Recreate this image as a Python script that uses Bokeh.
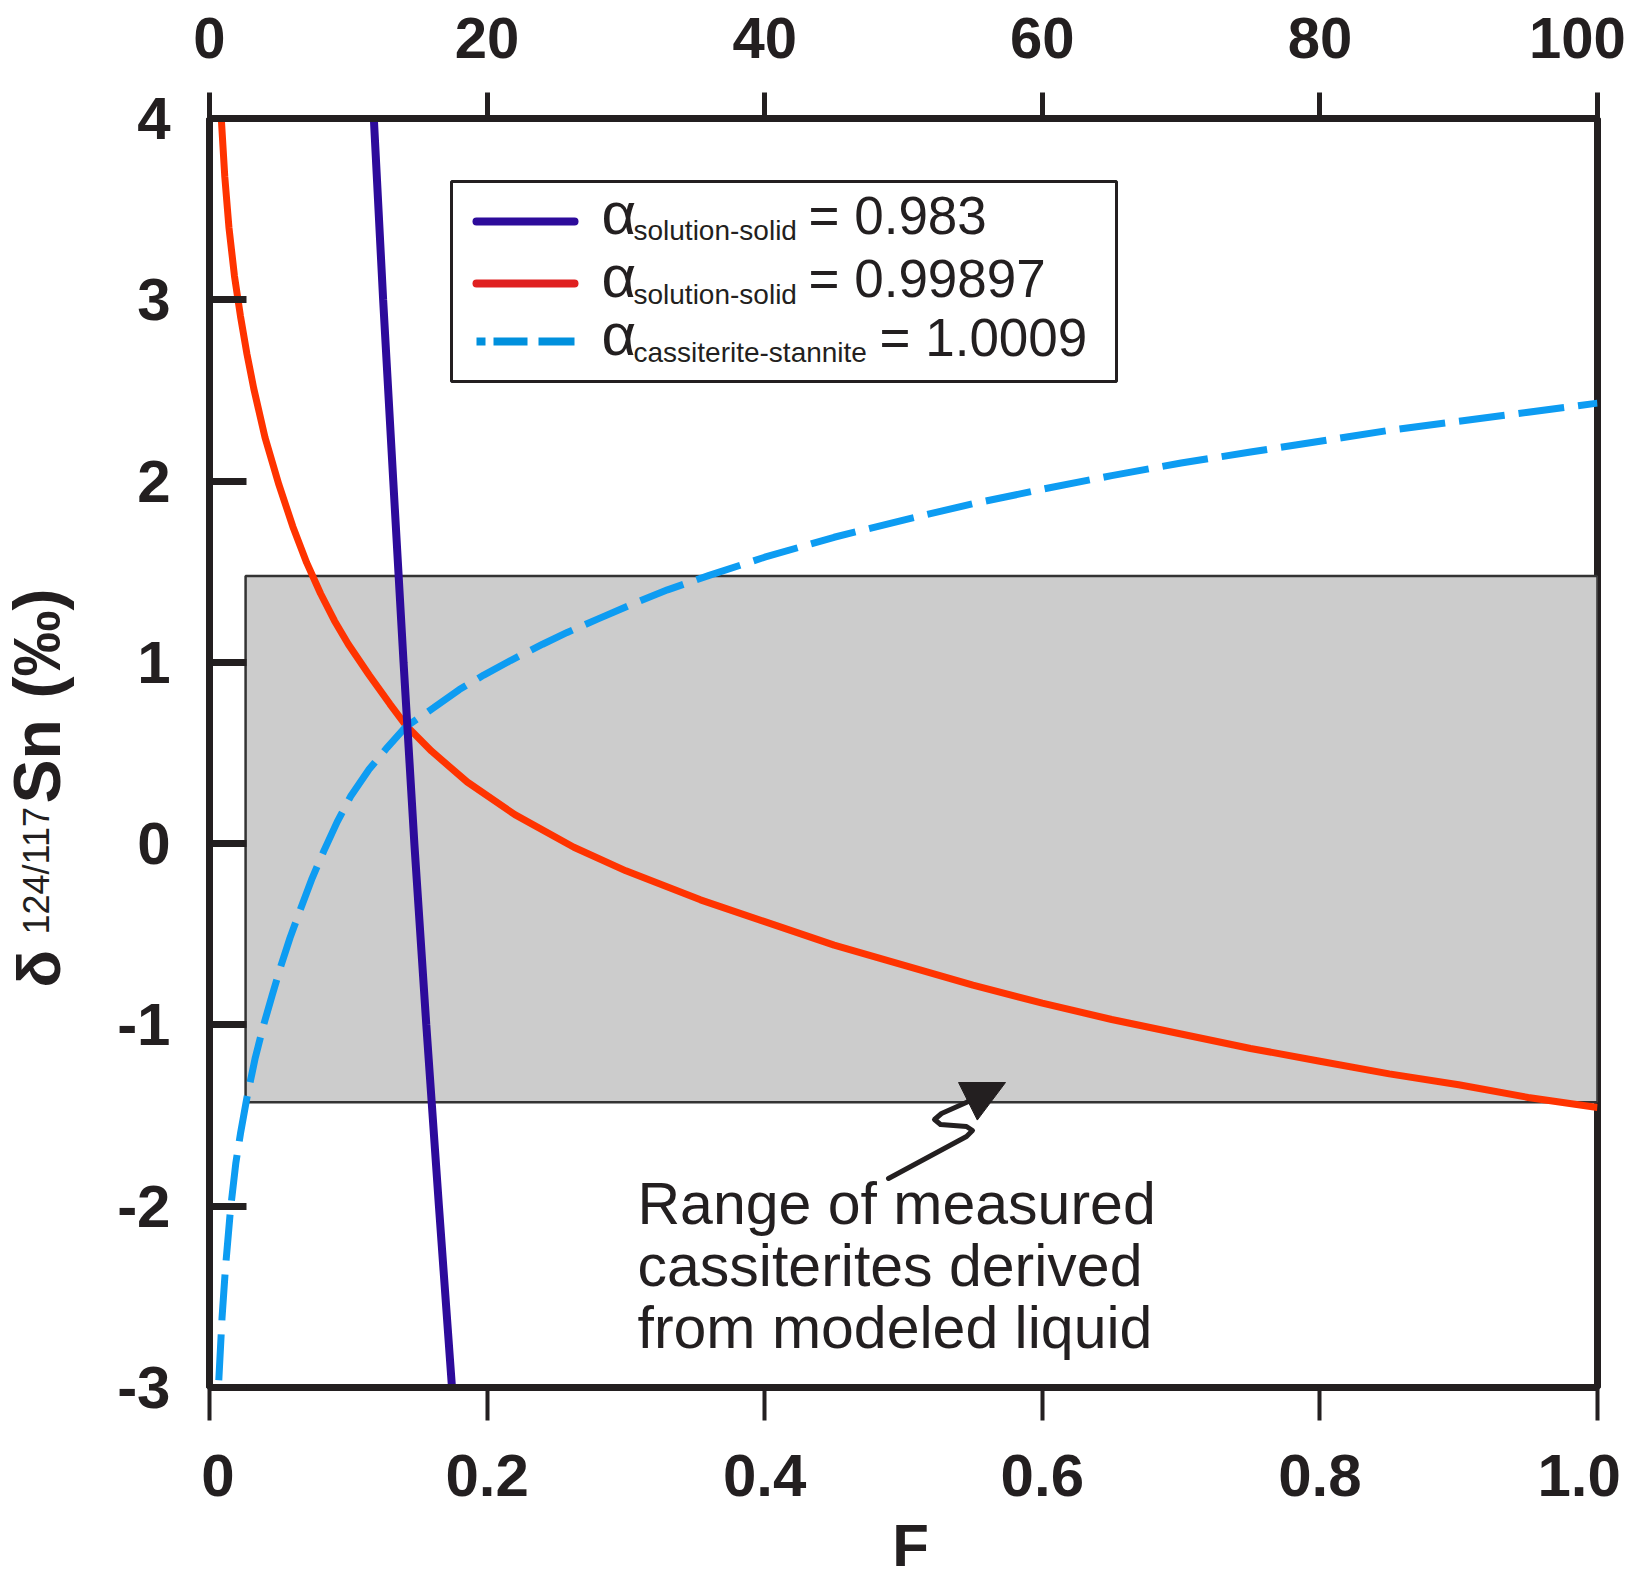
from math import pi
from bokeh.plotting import figure
from bokeh.layouts import row, column
from bokeh.models import (Range1d, LinearAxis, FixedTicker, Label, BoxAnnotation,
                          Arrow, NormalHead)
from bokeh.embed import file_html
from bokeh.resources import INLINE

# ---------------- data ----------------
# Rayleigh curve, alpha(solution-solid) = 0.983
F_SOLID_0983 = [0.1184, 0.1251, 0.1324, 0.1398, 0.1476, 0.1562, 0.1653, 0.1747]
DELTA_SOLID_0983 = [4.0, 3.0, 2.0, 1.0, 0.0, -1.0, -2.0, -3.0]

# Rayleigh curve, alpha(solution-solid) = 0.99897
F_SOLID_099897 = [0.0085, 0.0110, 0.0140, 0.0180, 0.0223, 0.0270, 0.0319, 0.0400,
                  0.0500, 0.0600, 0.0700, 0.0800, 0.0900, 0.1000, 0.1150, 0.1300,
                  0.1412, 0.1600, 0.1857, 0.2200, 0.2625, 0.3000, 0.3537, 0.4000,
                  0.4500, 0.5000, 0.5500, 0.6000, 0.6500, 0.7000, 0.7500, 0.8000,
                  0.8500, 0.9000, 0.9500, 1.0000]
DELTA_SOLID_099897 = [4.00, 3.68, 3.40, 3.13, 2.91, 2.70, 2.51, 2.24,
                      1.98, 1.75, 1.55, 1.38, 1.23, 1.10, 0.93, 0.77,
                      0.655, 0.51, 0.34, 0.16, -0.02, -0.15, -0.31, -0.43,
                      -0.56, -0.67, -0.78, -0.88, -0.97, -1.05, -1.13, -1.20,
                      -1.27, -1.33, -1.40, -1.455]

# alpha(cassiterite-stannite) = 1.0009
F_CASS_STAN = [0.0067, 0.0090, 0.0115, 0.0151, 0.0190, 0.0223, 0.0270, 0.0330,
               0.0390, 0.0450, 0.0512, 0.0580, 0.0656, 0.0740, 0.0824, 0.0920,
               0.1016, 0.1150, 0.1280, 0.1412, 0.1616, 0.1800, 0.1976, 0.2169,
               0.2400, 0.2577, 0.2800, 0.3057, 0.3300, 0.3600, 0.4000, 0.4500,
               0.5000, 0.5500, 0.6000, 0.6500, 0.7000, 0.7500, 0.8000, 0.8500,
               0.9000, 0.9500, 1.0000]
DELTA_CASS_STAN = [-2.96, -2.62, -2.34, -2.02, -1.76, -1.60, -1.40, -1.18,
                   -1.00, -0.84, -0.68, -0.52, -0.36, -0.19, -0.04, 0.12,
                   0.26, 0.41, 0.53, 0.643, 0.75, 0.85, 0.93, 1.01,
                   1.10, 1.165, 1.24, 1.325, 1.40, 1.48, 1.58, 1.69,
                   1.785, 1.875, 1.955, 2.03, 2.10, 2.16, 2.22, 2.28,
                   2.33, 2.38, 2.43]

# range of measured cassiterites (grey band)
MEASURED_F = [0.026, 1.0]
MEASURED_DELTA = [-1.426, 1.477]

X_TICKS = [0, 0.2, 0.4, 0.6, 0.8, 1.0]
X_TICK_LABELS = ["0", "0.2", "0.4", "0.6", "0.8", "1.0"]
TOP_TICKS = [0, 20, 40, 60, 80, 100]
TOP_TICK_LABELS = ["0", "20", "40", "60", "80", "100"]
Y_TICKS = [-3, -2, -1, 0, 1, 2, 3, 4]
Y_TICK_LABELS = ["-3", "-2", "-1", "0", "1", "2", "3", "4"]

LEGEND_SUBSCRIPTS = ["solution-solid", "solution-solid", "cassiterite-stannite"]
LEGEND_VALUES = ["= 0.983", "= 0.99897", "= 1.0009"]
ANNOTATION_LINES = ["Range of measured", "cassiterites derived", "from modeled liquid"]
X_TITLE = "F"

# ---------------- layout / style ----------------
W, H = 1637, 1583
LW = 80            # left strip holding the rotated y title
MAIN_H = 1512      # main figure height; strip below holds "F"
FL, FR, FT, FB = 209, 1597, 118, 1387   # frame in page pixels
XMIN, XMAX, YMIN, YMAX = 0.0, 1.0, -3.0, 4.0
FONT = "Liberation Sans"
INK = "#231f20"
C_PURPLE = "#2d0b9b"
C_RED = "#ff3300"
C_BLUE = "#0d9cf2"
NB = "\u00a0"
THIN = "\u2009"
BASE_SHIFT = 0.4   # rendered alphabetic baseline sits ~0.4 em below anchor
F_STRIP_SHIFT = 40  # observed horizontal offset of the bottom strip's content


def dx(px):
    return XMIN + (px - FL) / (FR - FL) * (XMAX - XMIN)


def dy(py):
    return YMAX - (py - FT) / (FB - FT) * (YMAX - YMIN)


def clean(fig):
    fig.background_fill_color = "white"
    fig.border_fill_color = "white"
    fig.xgrid.grid_line_color = None
    fig.ygrid.grid_line_color = None


p = figure(width=W - LW, height=MAIN_H, x_range=Range1d(XMIN, XMAX),
           y_range=Range1d(YMIN, YMAX), output_backend="svg", toolbar_location=None,
           x_axis_location=None, y_axis_location=None,
           min_border_left=FL - LW, min_border_right=W - FR,
           min_border_top=FT, min_border_bottom=MAIN_H - FB)
clean(p)
p.outline_line_color = INK
p.outline_line_width = 7
p.extra_x_ranges = {"top": Range1d(0, 100)}


def style_axis(ax, lw, tw, size="60px"):
    ax.axis_line_color = INK
    ax.axis_line_width = lw
    ax.major_tick_line_color = INK
    ax.major_tick_line_width = tw
    ax.minor_tick_line_color = None
    ax.major_label_text_font = FONT
    ax.major_label_text_font_style = "bold"
    ax.major_label_text_font_size = size
    ax.major_label_text_color = INK


x_labels = list(X_TICK_LABELS)
x_labels[0] = NB + x_labels[0]
x_labels[-1] = x_labels[-1] + NB
xb = LinearAxis(ticker=FixedTicker(ticks=X_TICKS),
                major_label_overrides=dict(zip(X_TICKS, x_labels)))
style_axis(xb, 7, 4)
xb.major_tick_out = 33
xb.major_tick_in = 0
xb.major_label_standoff = 21
p.add_layout(xb, "below")

top_labels = list(TOP_TICK_LABELS)
top_labels[-1] = top_labels[-1] + THIN
xt = LinearAxis(x_range_name="top", ticker=FixedTicker(ticks=TOP_TICKS),
                major_label_overrides=dict(zip(TOP_TICKS, top_labels)))
style_axis(xt, 7, 5, "58px")
xt.major_tick_out = 26
xt.major_tick_in = 0
xt.major_label_standoff = 23
p.add_layout(xt, "above")

yl = LinearAxis(ticker=FixedTicker(ticks=Y_TICKS),
                major_label_overrides=dict(zip(Y_TICKS, Y_TICK_LABELS)))
style_axis(yl, 7, 7)
yl.major_tick_out = 0
yl.major_tick_in = 37
yl.major_label_standoff = 39
p.add_layout(yl, "left")

# grey band
p.quad(left=[MEASURED_F[0]], right=[MEASURED_F[1]],
       bottom=[MEASURED_DELTA[0]], top=[MEASURED_DELTA[1]],
       fill_color="#cccccc", line_color="#333333", line_width=2.5)

# curves
p.line(F_SOLID_099897, DELTA_SOLID_099897, line_color=C_RED, line_width=7)
p.line(F_CASS_STAN, DELTA_CASS_STAN, line_color=C_BLUE, line_width=7,
       line_dash="46 14")
p.line(F_SOLID_0983, DELTA_SOLID_0983, line_color=C_PURPLE, line_width=8)


def text_label(x, y_base_px, txt, size, yconv, style="normal"):
    """left-aligned label whose baseline lands on y_base_px (page pixels)"""
    return Label(x=x, y=yconv(y_base_px - BASE_SHIFT * size), text=txt,
                 text_font=FONT, text_font_size=f"{size}px", text_color=INK,
                 text_font_style=style, text_align="left",
                 text_baseline="alphabetic")


# legend box
p.add_layout(BoxAnnotation(left=dx(451), right=dx(1116), top=dy(181), bottom=dy(381),
                           fill_color="white", fill_alpha=1.0,
                           line_color=INK, line_width=3, line_alpha=1.0))
swatches = [(C_PURPLE, 221, None), ("#e02020", 283, None),
            ("#0090dd", 341, "9 8 34 11 38 20")]
for color, ypx, dash in swatches:
    kw = dict(x_start=dx(476), y_start=dy(ypx), x_end=dx(574), y_end=dy(ypx),
              start=None, end=None, line_color=color, line_width=8, line_cap="round")
    if dash:
        kw["line_dash"] = dash
        kw["line_cap"] = "butt"
    p.add_layout(Arrow(**kw))

rows = [(237, 241, 236, 808), (300, 305, 299, 808), (358, 363, 358, 879)]
for (a_base, sub_base, v_base, xeq), sub, val in zip(rows, LEGEND_SUBSCRIPTS, LEGEND_VALUES):
    p.add_layout(text_label(dx(601), a_base, "α", 60, dy))
    p.add_layout(text_label(dx(633), sub_base, sub, 28, dy))
    p.add_layout(text_label(dx(xeq), v_base, val, 53, dy))

# annotation text
for i, line in enumerate(ANNOTATION_LINES):
    p.add_layout(text_label(dx(637), 1227 + i * 62, line, 59, dy))

# squiggly arrow pointing to the band
sq_px = [(888, 1178), (966, 1136), (972, 1130), (966, 1126), (940, 1124),
         (934, 1119), (941, 1113), (968, 1101)]
p.line([dx(a) for a, b in sq_px], [dy(b) for a, b in sq_px], line_color=INK,
       line_width=5, line_join="round", line_cap="round")
p.add_layout(Arrow(x_start=dx(967), y_start=dy(1101), x_end=dx(1005), y_end=dy(1082),
                   start=None, end=NormalHead(size=42, fill_color=INK, line_color=INK),
                   line_color=INK, line_width=5))

# ---------------- left strip: rotated y title (full page height) ----------------
ylab_fig = figure(width=LW, height=H, x_range=Range1d(0, LW), y_range=Range1d(0, H),
                  output_backend="svg", toolbar_location=None,
                  x_axis_location=None, y_axis_location=None, min_border=0)
clean(ylab_fig)
ylab_fig.outline_line_color = None

# (text, baseline x, start y (bottom end), size, weight) in page pixels
ylab = [("δ", 63, 987, 62, "bold"),
        ("124/117", 50, 934, 36, "normal"),
        ("Sn", 63, 803, 66, "bold"),
        ("(‰)", 63, 698, 66, "bold")]
for txt, bx, by, fs, st in ylab:
    ylab_fig.add_layout(Label(x=bx - BASE_SHIFT * fs, y=H - by, text=txt,
                              angle=pi / 2, text_font=FONT, text_font_size=f"{fs}px",
                              text_font_style=st, text_color=INK,
                              text_align="left", text_baseline="alphabetic"))

# ---------------- bottom strip: x title ----------------
f_fig = figure(width=W - LW, height=H - MAIN_H, x_range=Range1d(LW, W),
               y_range=Range1d(0, H - MAIN_H), output_backend="svg",
               toolbar_location=None, x_axis_location=None, y_axis_location=None,
               min_border=0)
clean(f_fig)
f_fig.outline_line_color = None
f_fig.add_layout(text_label(886 - F_STRIP_SHIFT, 1569, X_TITLE, 60, lambda py: H - py,
                            style="bold"))

layout = row(ylab_fig, column(p, f_fig))
open("out.html", "w").write(file_html(layout, INLINE))
